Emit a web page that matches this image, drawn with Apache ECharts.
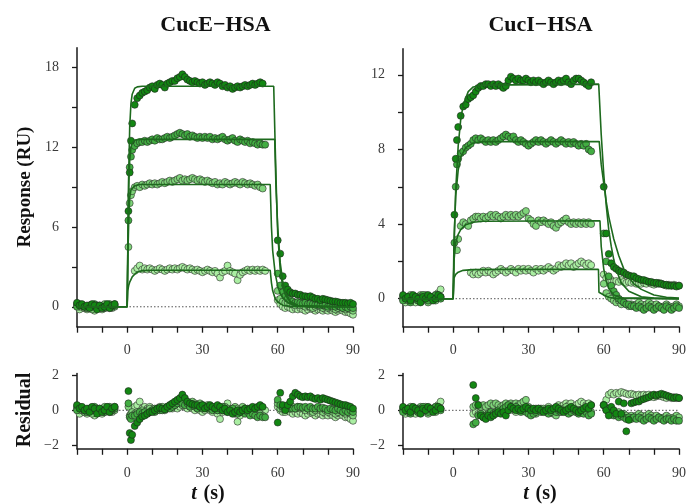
<!DOCTYPE html>
<html>
<head>
<meta charset="utf-8">
<script src="https://cdn.jsdelivr.net/npm/echarts@6/dist/echarts.min.js"></script>
<style>
  html, body { margin: 0; padding: 0; background: #fff; }
  #chart { width: 689px; height: 504px; }
</style>
</head>
<body>
<div id="chart"></div>
<script>
// sampling times (s): baseline, association, dissociation
const tPre = [-20,-19,-18,-17,-16,-15,-14,-13,-12,-11,-10,-9,-8,-7,-6,-5];
const tAssoc = [0.5,1,1.5,2,3,4,5,6,7,8,9,10,11,12,13,14,15,16,17,18,19,20,21,22,23,24,25,26,27,28,29,30,31,32,33,34,35,36,37,38,39,40,41,42,43,44,45,46,47,48,49,50,51,52,53,54,55];
const tDiss = [60,61,62,63,64,65,66,67,68,69,70,71,72,73,74,75,76,77,78,79,80,81,82,83,84,85,86,87,88,89,90];

// CucE-HSA responses (RU), lowest to highest concentration
const cucE1 = [
  [0.1,-0.2,0.0,-0.1,-0.2,0.0,-0.1,-0.3,-0.1,0.0,-0.2,-0.1,0.1,0.0,-0.1,0.2],
  [null,null,null,null,2.7,2.9,3.1,2.8,2.9,2.8,2.9,2.8,2.7,2.8,2.9,2.8,2.7,2.8,2.9,2.8,2.9,2.8,2.9,3.0,2.9,2.8,2.9,2.8,2.7,2.8,2.7,2.6,2.7,2.8,2.7,2.6,2.7,2.5,2.2,2.6,2.7,3.1,2.7,2.6,2.5,2.0,2.4,2.6,2.7,2.8,2.7,2.8,2.7,2.8,2.7,2.8,2.7],
  [0.5,0.2,0.0,-0.1,0.0,-0.1,-0.2,-0.1,-0.2,-0.1,-0.2,-0.3,-0.2,-0.1,-0.2,-0.3,-0.2,-0.2,-0.3,-0.2,-0.3,-0.2,-0.3,-0.4,-0.3,-0.2,-0.3,-0.4,-0.4,-0.5,-0.6]
];
const cucE2 = [
  [0.2,0.0,0.1,-0.1,0.0,0.1,-0.2,0.0,0.1,-0.1,0.0,0.2,0.0,-0.1,0.1,0.0],
  [4.5,7.8,8.4,8.7,9.0,9.1,9.0,9.2,9.1,9.2,9.3,9.2,9.3,9.2,9.3,9.4,9.3,9.4,9.5,9.4,9.5,9.6,9.7,9.5,9.6,9.5,9.6,9.7,9.6,9.5,9.6,9.5,9.4,9.5,9.4,9.3,9.4,9.2,9.3,9.2,9.4,9.3,9.2,9.3,9.4,9.3,9.2,9.4,9.3,9.2,9.3,9.2,9.1,9.2,9.0,8.9,null],
  [1.2,0.6,0.4,0.3,0.3,0.2,0.2,0.1,0.2,0.1,0.1,0.0,0.1,0.0,-0.1,0.0,0.1,0.0,-0.1,0.0,-0.1,0.0,-0.1,-0.2,-0.1,0.0,-0.1,-0.2,-0.1,-0.2,-0.3]
];
const cucE3 = [
  [0.0,0.2,0.1,0.0,-0.1,0.1,0.0,0.2,-0.1,0.1,0.0,-0.1,0.1,0.2,0.0,0.1],
  [6.5,10.5,11.3,11.8,12.1,12.3,12.4,12.4,12.5,12.4,12.5,12.6,12.5,12.7,12.6,12.6,12.7,12.8,12.7,12.8,12.9,13.0,13.1,13.0,12.9,13.0,12.8,12.9,12.8,12.7,12.8,12.7,12.8,12.7,12.8,12.6,12.7,12.6,12.7,12.8,12.6,12.5,12.6,12.7,12.5,12.4,12.6,12.5,12.4,12.5,12.3,12.4,12.3,12.2,12.3,12.2,12.2],
  [2.5,1.6,1.1,0.8,0.6,0.5,0.4,0.3,0.35,0.3,0.25,0.3,0.2,0.25,0.2,0.15,0.2,0.1,0.15,0.1,0.0,0.1,0.05,0.0,0.1,0.0,-0.1,0.0,-0.1,0.0,-0.1]
];
const cucE4 = [
  [0.3,0.1,0.2,0.0,0.1,-0.1,0.2,0.1,-0.2,0.1,-0.1,0.0,0.2,-0.1,0.1,0.2],
  [7.2,10.1,12.5,13.8,15.2,15.7,15.9,16.1,16.2,16.3,16.5,16.6,16.4,16.7,16.8,16.7,16.5,16.8,16.9,17.0,17.0,17.2,17.3,17.5,17.3,17.1,17.0,16.9,17.0,16.9,16.8,16.9,16.7,16.8,16.9,16.8,16.7,16.9,16.8,16.6,16.7,16.5,16.6,16.4,16.5,16.6,16.5,16.6,16.7,16.6,16.7,16.8,16.7,16.8,16.9,16.8,null],
  [5.0,4.0,2.3,1.6,1.3,1.1,1.0,1.0,0.9,0.9,0.8,0.8,0.75,0.8,0.7,0.6,0.6,0.5,0.6,0.55,0.5,0.45,0.4,0.4,0.35,0.3,0.3,0.3,0.25,0.3,0.2]
];

// CucI-HSA responses (RU)
const cucI1 = [
  [0.0,-0.2,0.1,-0.1,0.0,-0.2,0.1,0.0,-0.1,0.2,0.0,-0.1,0.1,0.2,0.3,0.5],
  [null,null,null,null,null,null,null,null,1.4,1.3,1.4,1.3,1.4,1.5,1.4,1.5,1.4,1.3,1.4,1.5,1.6,1.5,1.4,1.5,1.6,1.5,1.4,1.6,1.5,1.6,1.5,1.6,1.5,1.4,1.6,1.5,1.6,1.5,1.6,1.7,1.6,1.5,1.6,1.8,1.7,1.8,1.9,1.8,1.9,1.7,1.8,1.9,2.0,1.9,1.8,1.9,1.8],
  [1.3,1.1,1.0,1.0,0.9,0.95,0.9,1.0,0.9,0.85,0.9,0.85,0.9,0.8,0.85,0.8,0.85,0.8,0.9,0.8,0.75,0.8,0.85,0.8,0.75,0.7,0.75,0.7,0.75,0.7,0.7]
];
const cucI2 = [
  [0.1,0.0,-0.1,0.2,0.0,0.1,-0.1,0.2,0.0,0.1,-0.2,0.0,0.1,-0.1,0.2,0.1],
  [null,null,2.6,3.2,3.9,4.1,4.0,3.9,4.2,4.3,4.4,4.4,4.3,4.4,4.3,4.4,4.5,4.4,4.5,4.4,4.3,4.4,4.5,4.4,4.5,4.4,4.5,4.4,4.5,4.6,4.7,4.3,4.2,4.0,3.9,4.2,4.1,4.2,4.1,4.0,4.1,3.9,3.8,4.0,4.1,4.2,4.3,4.1,4.0,4.1,4.0,4.1,4.0,4.1,4.0,4.1,4.0],
  [0.8,0.3,0.1,0.0,-0.1,-0.2,-0.1,-0.3,-0.2,-0.3,-0.4,-0.3,-0.4,-0.3,-0.2,-0.3,-0.4,-0.3,-0.2,-0.3,-0.4,-0.3,-0.4,-0.5,-0.4,-0.3,-0.4,-0.5,-0.4,-0.3,-0.4]
];
const cucI3 = [
  [-0.1,0.1,0.0,-0.2,0.1,0.0,-0.1,0.1,0.2,0.0,-0.1,0.1,0.0,0.2,0.1,0.0],
  [3.0,6.0,7.2,7.5,7.8,7.9,8.1,8.2,8.3,8.5,8.6,8.5,8.6,8.5,8.4,8.5,8.4,8.5,8.4,8.5,8.6,8.7,8.8,8.7,8.6,8.7,8.5,8.4,8.5,8.4,8.3,8.2,8.3,8.4,8.5,8.4,8.5,8.4,8.3,8.4,8.5,8.4,8.3,8.4,8.5,8.4,8.3,8.4,8.3,8.4,8.3,8.2,8.3,8.2,8.3,8.0,7.9],
  [3.5,2.0,1.2,0.7,0.4,0.2,0.0,-0.1,-0.2,-0.3,-0.3,-0.4,-0.4,-0.5,-0.4,-0.5,-0.6,-0.5,-0.4,-0.5,-0.6,-0.5,-0.4,-0.5,-0.6,-0.4,-0.5,-0.6,-0.5,-0.4,-0.5]
];
const cucI4 = [
  [0.2,0.0,0.1,-0.1,0.2,0.1,0.0,-0.2,0.1,0.0,0.2,0.1,-0.1,0.0,0.2,0.1],
  [4.5,7.5,8.5,9.2,9.8,10.3,10.4,10.7,10.8,10.9,11.1,11.3,11.4,11.4,11.5,11.5,11.4,11.5,11.4,11.5,11.4,11.3,11.4,11.7,11.9,11.8,11.7,11.8,11.7,11.7,11.8,11.7,11.6,11.7,11.6,11.7,11.6,11.5,11.6,11.7,11.6,11.5,11.6,11.7,11.6,11.7,11.8,11.6,11.5,11.7,11.8,11.8,11.7,11.6,11.5,11.4,11.6],
  [6.0,3.5,2.4,1.9,1.7,1.6,1.5,1.45,1.4,1.3,1.25,1.2,1.2,1.1,1.05,1.0,1.0,0.95,0.9,0.9,0.85,0.85,0.8,0.8,0.75,0.75,0.7,0.7,0.7,0.65,0.7]
];

// residuals, CucE-HSA
const resE1 = [
  [0.1,-0.2,0.0,-0.1,-0.2,0.0,-0.1,-0.3,-0.1,0.0,-0.2,-0.1,0.1,0.0,-0.1,0.2],
  [null,null,null,null,0.2,0.3,0.5,0.1,0.2,0.1,0.2,0.1,0.0,0.1,0.2,0.1,0.0,0.1,0.2,0.1,0.2,0.1,0.2,0.3,0.2,0.1,0.2,0.1,0.0,0.1,0.0,-0.1,0.0,0.1,0.0,-0.1,0.0,-0.2,-0.5,-0.1,0.0,0.4,0.0,-0.1,-0.2,-0.65,-0.3,-0.1,0.0,0.1,0.0,0.1,0.0,0.1,0.0,0.1,0.0],
  [0.2,0.0,-0.1,-0.1,0.0,-0.1,-0.2,-0.1,-0.2,-0.1,-0.2,-0.3,-0.2,-0.1,-0.2,-0.3,-0.2,-0.2,-0.3,-0.2,-0.3,-0.2,-0.3,-0.4,-0.3,-0.2,-0.3,-0.4,-0.4,-0.5,-0.6]
];
const resE2 = [
  [0.2,0.0,0.1,-0.1,0.0,0.1,-0.2,0.0,0.1,-0.1,0.0,0.2,0.0,-0.1,0.1,0.0],
  [0.2,-0.3,-0.2,-0.1,-0.2,-0.1,-0.2,0.0,-0.1,0.0,0.1,0.0,0.1,0.0,0.1,0.2,0.1,0.2,0.3,0.2,0.3,0.4,0.5,0.3,0.4,0.3,0.4,0.5,0.4,0.3,0.4,0.3,0.2,0.3,0.2,0.1,0.2,0.0,0.1,0.0,0.2,0.1,0.0,0.1,0.2,0.1,0.0,0.2,0.1,0.0,0.1,0.0,-0.1,0.0,-0.2,-0.3,null],
  [0.4,0.1,0.1,0.1,0.2,0.1,0.2,0.1,0.2,0.1,0.1,0.0,0.1,0.0,-0.1,0.0,0.1,0.0,-0.1,0.0,-0.1,0.0,-0.1,-0.2,-0.1,0.0,-0.1,-0.2,-0.1,-0.2,-0.3]
];
const resE3 = [
  [0.0,0.2,0.1,0.0,-0.1,0.1,0.0,0.2,-0.1,0.1,0.0,-0.1,0.1,0.2,0.0,0.1],
  [0.4,-0.4,-0.5,-0.3,-0.3,-0.2,-0.1,-0.2,-0.1,-0.2,-0.1,0.0,-0.1,0.1,0.0,0.0,0.1,0.2,0.1,0.2,0.3,0.4,0.5,0.4,0.3,0.4,0.2,0.3,0.2,0.1,0.2,0.1,0.2,0.1,0.2,0.0,0.1,0.0,0.1,0.2,0.0,-0.1,0.0,0.1,-0.1,-0.2,0.0,-0.1,-0.2,-0.1,-0.3,-0.2,-0.3,-0.4,-0.3,-0.4,-0.4],
  [0.6,0.3,0.2,0.1,0.1,0.1,0.1,0.1,0.2,0.2,0.15,0.2,0.1,0.2,0.1,0.1,0.2,0.1,0.15,0.1,0.0,0.1,0.05,0.0,0.1,0.0,-0.1,0.0,-0.1,0.0,-0.1]
];
const resE4 = [
  [0.3,0.1,0.2,0.0,0.1,-0.1,0.2,0.1,-0.2,0.1,-0.1,0.0,0.2,-0.1,0.1,0.2],
  [1.1,-1.3,-1.7,-1.4,-0.9,-0.7,-0.5,-0.35,-0.3,-0.2,-0.1,-0.1,0.0,0.1,0.15,0.1,0.05,0.2,0.3,0.4,0.5,0.6,0.7,0.9,0.7,0.5,0.4,0.35,0.3,0.3,0.2,0.3,0.1,0.2,0.3,0.2,0.1,0.3,0.2,0.0,0.1,-0.1,0.0,-0.2,-0.1,0.0,-0.1,0.0,0.1,0.0,0.1,0.2,0.1,0.2,0.3,0.2,null],
  [-0.7,1.0,0.3,0.0,0.3,0.5,0.8,1.0,0.9,0.8,0.75,0.8,0.75,0.8,0.7,0.65,0.7,0.6,0.7,0.65,0.6,0.55,0.5,0.45,0.4,0.35,0.3,0.3,0.25,0.2,0.1]
];

// residuals, CucI-HSA
const resI1 = [
  [0.0,-0.2,0.1,-0.1,0.0,-0.2,0.1,0.0,-0.1,0.2,0.0,-0.1,0.1,0.2,0.3,0.5],
  [null,null,null,null,null,null,null,null,null,-0.2,-0.1,-0.2,-0.1,0.0,-0.1,0.0,-0.1,-0.2,-0.1,0.0,0.1,0.0,-0.1,0.0,0.1,0.0,-0.1,0.1,0.0,0.1,0.0,0.1,0.0,-0.1,0.1,0.0,0.1,0.0,0.1,0.2,0.1,0.0,0.1,0.3,0.2,0.3,0.4,0.3,0.4,0.2,0.3,0.4,0.5,0.4,0.3,0.4,0.3],
  [0.3,0.6,0.9,1.0,0.9,1.0,0.95,1.05,1.0,0.95,0.9,0.95,0.9,0.85,0.9,0.85,0.9,0.85,0.9,0.8,0.75,0.8,0.85,0.8,0.75,0.7,0.75,0.7,0.75,0.7,0.7]
];
const resI2 = [
  [0.1,0.0,-0.1,0.2,0.0,0.1,-0.1,0.2,0.0,0.1,-0.2,0.0,0.1,-0.1,0.2,0.1],
  [null,null,null,null,null,null,null,null,null,0.2,0.3,0.3,0.2,0.3,0.2,0.3,0.4,0.3,0.4,0.3,0.2,0.3,0.4,0.3,0.4,0.3,0.4,0.3,0.4,0.5,0.6,0.2,0.1,-0.1,-0.2,0.1,0.0,0.1,0.0,-0.1,0.0,-0.2,-0.3,-0.1,0.0,0.1,0.2,0.0,-0.1,0.0,-0.1,0.0,-0.1,0.0,-0.1,0.0,-0.1],
  [0.3,0.1,0.0,0.0,-0.1,-0.2,-0.1,-0.3,-0.2,-0.3,-0.4,-0.3,-0.4,-0.3,-0.2,-0.3,-0.4,-0.3,-0.2,-0.3,-0.4,-0.3,-0.4,-0.5,-0.4,-0.3,-0.4,-0.5,-0.4,-0.3,-0.4]
];
const resI3 = [
  [-0.1,0.1,0.0,-0.2,0.1,0.0,-0.1,0.1,0.2,0.0,-0.1,0.1,0.0,0.2,0.1,0.0],
  [null,null,null,null,null,null,null,null,null,-0.8,-0.7,-0.3,-0.2,-0.4,-0.3,-0.2,-0.1,-0.2,-0.1,0.0,-0.1,0.1,0.2,0.3,0.2,0.1,0.2,0.0,-0.1,0.0,-0.1,-0.2,-0.3,-0.2,-0.1,0.0,-0.1,0.0,-0.1,-0.2,-0.1,0.0,-0.1,0.0,-0.1,0.0,-0.1,-0.2,-0.1,0.0,-0.1,-0.2,-0.1,-0.2,-0.1,-0.3,-0.2],
  [0.3,0.1,-0.1,-0.2,-0.3,-0.3,-0.4,-0.3,-0.4,-0.5,-0.4,-0.5,-0.4,-0.5,-0.4,-0.5,-0.6,-0.5,-0.4,-0.5,-0.6,-0.5,-0.4,-0.5,-0.6,-0.5,-0.5,-0.6,-0.5,-0.6,-0.6]
];
const resI4 = [
  [0.2,0.0,0.1,-0.1,0.2,0.1,0.0,-0.2,0.1,0.0,0.2,0.1,-0.1,0.0,0.2,0.1],
  [null,null,null,null,null,null,null,null,null,1.45,0.7,0.3,-0.3,-0.4,-0.5,-0.3,-0.4,-0.3,-0.2,-0.1,-0.2,-0.1,-0.3,0.0,0.2,0.1,0.0,0.1,0.0,0.1,0.2,0.1,0.0,0.1,0.0,0.1,0.0,-0.1,0.0,0.1,0.0,0.1,0.2,0.1,0.0,-0.1,0.0,0.1,0.2,0.1,0.0,-0.1,0.0,0.1,0.2,0.1,0.3],
  [0.3,0.0,-0.3,0.2,0.0,-0.2,0.5,-0.2,0.4,-1.2,-0.55,0.4,0.45,0.5,0.5,0.6,0.65,0.7,0.75,0.85,0.9,0.85,0.9,0.95,0.9,0.85,0.8,0.75,0.7,0.75,0.7]
];

// fitted curves [t, RU]
const fitE1 = [[-20,0],[0,0],[0.2,1.2],[0.6,1.6],[1,1.85],[1.5,2.05],[2,2.25],[3,2.45],[4,2.6],[6,2.72],[10,2.75],[57,2.75],[57.5,1.8],[58,1.2],[59,0.6],[60,0.35],[62,0.12],[65,0.03],[90,0]];
const fitE2 = [[-20,0],[0,0],[0.3,4],[0.7,7],[1,8.2],[1.5,8.8],[2,8.95],[3,9.1],[5,9.2],[57,9.2],[57.5,6],[58,4.2],[59,2.5],[60,1.55],[61,1.0],[62,0.7],[64,0.3],[67,0.1],[72,0.02],[90,0]];
const fitE3 = [[-20,0],[0,0],[0.3,5],[0.7,9.5],[1,11],[1.5,12],[2,12.35],[3,12.55],[5,12.6],[58.8,12.6],[59.3,9],[60,6],[61,3.3],[62,1.9],[63,1.1],[65,0.4],[68,0.1],[90,0]];
const fitE4 = [[-20,0],[0,0],[0.5,9],[1,13.5],[1.5,15.3],[2,16.0],[3,16.45],[4,16.55],[6,16.6],[58.4,16.6],[59,12],[59.5,8.5],[60,5.5],[61,2.8],[62,1.5],[63,0.9],[65,0.35],[68,0.1],[72,0.02],[90,0]];
const fitI1 = [[-20,0],[0,0],[0.3,1.1],[1,1.3],[2,1.42],[4,1.52],[8,1.56],[20,1.57],[57.9,1.57],[58.1,0.35],[59,0.28],[60,0.2],[62,0.08],[64,0.02],[90,0]];
const fitI2 = [[-20,0],[0,0],[0.3,2.0],[1,3.0],[2,3.45],[3,3.7],[5,3.97],[8,4.1],[12,4.15],[58.5,4.18],[59,2.8],[60,1.6],[61,0.95],[62,0.55],[64,0.2],[67,0.05],[90,0]];
const fitI3 = [[-20,0],[0,0],[0.3,3],[1,5.5],[2,6.9],[3,7.6],[5,8.1],[8,8.35],[12,8.42],[58.2,8.43],[59,7.2],[60,6.2],[61,5.2],[62,4.4],[63,3.8],[64,3.2],[66,2.3],[68,1.6],[70,1.15],[72,0.8],[75,0.5],[80,0.2],[85,0.08],[90,0.03]];
const fitI4 = [[-20,0],[0,0],[0.5,3.5],[1,5.8],[2,8.2],[3,9.6],[4,10.4],[6,11.1],[8,11.35],[12,11.45],[58,11.5],[59,8.8],[60,6.7],[61,5.0],[62,3.7],[63,2.8],[64,2.1],[65,1.55],[67,0.85],[70,0.4],[75,0.1],[80,0.03],[90,0]];

const dotColors = ['#aaeea2', '#7fd47a', '#42ad42', '#138713'];
const fitColor = '#1d6a1d';
const serif = 'Liberation Serif';

function pairUp(times, vals) {
    const out = [];
    for (let i = 0; i < times.length && i < vals.length; i++) {
        if (vals[i] !== null) out.push([times[i], vals[i]]);
    }
    return out;
}

function toPoints(segs) {
    return pairUp(tPre, segs[0]).concat(pairUp(tAssoc, segs[1]), pairUp(tDiss, segs[2]));
}

function dots(segs, idx, axis) {
    return {
        type: 'scatter',
        xAxisIndex: axis,
        yAxisIndex: axis,
        data: toPoints(segs),
        symbolSize: 7,
        itemStyle: { color: dotColors[idx], borderColor: 'rgba(30,30,30,0.8)', borderWidth: 0.7, opacity: 1 },
        z: 3
    };
}

function fit(points, axis) {
    return {
        type: 'line',
        xAxisIndex: axis,
        yAxisIndex: axis,
        data: points,
        symbol: 'none',
        lineStyle: { color: fitColor, width: 1.6 },
        z: 4
    };
}

function zeroLine(axis) {
    return {
        type: 'line',
        xAxisIndex: axis,
        yAxisIndex: axis,
        data: [[-20, 0], [90, 0]],
        symbol: 'none',
        lineStyle: { color: '#555', width: 1, type: [1.5, 2] },
        z: 1
    };
}

function xAxis(grid, margin) {
    return {
        type: 'value',
        gridIndex: grid,
        min: -20,
        max: 90,
        interval: 10,
        splitLine: { show: false },
        axisLine: { show: true, onZero: false, lineStyle: { color: '#1a1a1a', width: 1.5 } },
        axisTick: { show: true, length: 6, lineStyle: { color: '#1a1a1a', width: 1.3 } },
        axisLabel: {
            margin: margin,
            fontFamily: serif,
            fontSize: 14,
            color: '#3a3a3a',
            formatter: function (v) { return (v >= 0 && v % 30 === 0) ? String(v) : ''; }
        }
    };
}

function yAxis(grid, min, max, ticks, labels) {
    return {
        type: 'value',
        gridIndex: grid,
        min: min,
        max: max,
        splitLine: { show: false },
        axisLine: { show: true, onZero: false, lineStyle: { color: '#1a1a1a', width: 1.5 } },
        axisTick: { show: true, length: 5, customValues: ticks, lineStyle: { color: '#1a1a1a', width: 1.3 } },
        axisLabel: {
            margin: 18,
            fontFamily: serif,
            fontSize: 14,
            color: '#3a3a3a',
            customValues: labels,
            formatter: function (v) { return String(v).replace('-', '\u2212'); }
        }
    };
}

const chart = echarts.init(document.getElementById('chart'), null, { renderer: 'canvas' });

const option = {
    animation: false,
    backgroundColor: '#fff',
    grid: [
        { left: 77, top: 47.7, width: 276, height: 279, outerBoundsMode: 'none' },
        { left: 403, top: 48.7, width: 276, height: 278, outerBoundsMode: 'none' },
        { left: 77, top: 373.6, width: 276, height: 75.2, outerBoundsMode: 'none' },
        { left: 403, top: 373.6, width: 276, height: 75.2, outerBoundsMode: 'none' }
    ],
    xAxis: [xAxis(0, 17), xAxis(1, 17), xAxis(2, 18), xAxis(3, 18)],
    yAxis: [
        yAxis(0, -1.5, 19.5, [0, 3, 6, 9, 12, 15, 18], [0, 6, 12, 18]),
        yAxis(1, -1.5, 13.4, [0, 2, 4, 6, 8, 10, 12], [0, 4, 8, 12]),
        yAxis(2, -2.2, 2.1, [-2, 0, 2], [-2, 0, 2]),
        yAxis(3, -2.2, 2.1, [-2, 0, 2], [-2, 0, 2])
    ],
    series: [
        zeroLine(0), zeroLine(1), zeroLine(2), zeroLine(3),
        dots(cucE1, 0, 0), dots(cucE2, 1, 0), dots(cucE3, 2, 0), dots(cucE4, 3, 0),
        dots(cucI1, 0, 1), dots(cucI2, 1, 1), dots(cucI3, 2, 1), dots(cucI4, 3, 1),
        dots(resE1, 0, 2), dots(resE2, 1, 2), dots(resE3, 2, 2), dots(resE4, 3, 2),
        dots(resI1, 0, 3), dots(resI2, 1, 3), dots(resI3, 2, 3), dots(resI4, 3, 3),
        fit(fitE1, 0), fit(fitE2, 0), fit(fitE3, 0), fit(fitE4, 0),
        fit(fitI1, 1), fit(fitI2, 1), fit(fitI3, 1), fit(fitI4, 1)
    ],
    graphic: [
        { type: 'text', x: 215.5, y: 25, style: { text: 'CucE\u2212HSA', font: 'bold 22px "Liberation Serif"', fill: '#111', align: 'center', verticalAlign: 'middle' } },
        { type: 'text', x: 540.5, y: 25, style: { text: 'CucI\u2212HSA', font: 'bold 22px "Liberation Serif"', fill: '#111', align: 'center', verticalAlign: 'middle' } },
        { type: 'text', x: 25, y: 187, rotation: Math.PI / 2, style: { text: 'Response (RU)', font: 'bold 19px "Liberation Serif"', fill: '#111', align: 'center', verticalAlign: 'middle' } },
        { type: 'text', x: 25, y: 410, rotation: Math.PI / 2, style: { text: 'Residual', font: 'bold 20px "Liberation Serif"', fill: '#111', align: 'center', verticalAlign: 'middle' } },
        {
            type: 'text', x: 208, y: 494,
            style: {
                text: '{i|t}  {b|(s)}', align: 'center', verticalAlign: 'middle',
                rich: {
                    i: { font: 'italic bold 20px "Liberation Serif"', fill: '#111' },
                    b: { font: 'bold 20px "Liberation Serif"', fill: '#111' }
                }
            }
        },
        {
            type: 'text', x: 540, y: 494,
            style: {
                text: '{i|t}  {b|(s)}', align: 'center', verticalAlign: 'middle',
                rich: {
                    i: { font: 'italic bold 20px "Liberation Serif"', fill: '#111' },
                    b: { font: 'bold 20px "Liberation Serif"', fill: '#111' }
                }
            }
        }
    ]
};

chart.setOption(option);
window.addEventListener('resize', () => chart.resize());
</script>
</body>
</html>
